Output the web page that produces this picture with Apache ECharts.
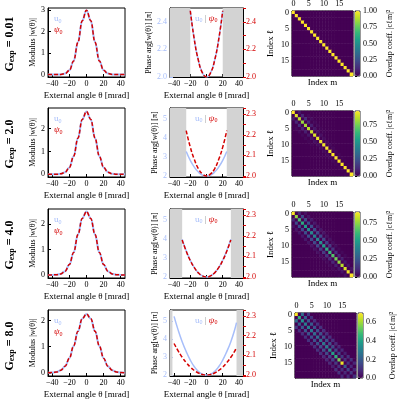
<!DOCTYPE html>
<html><head><meta charset="utf-8">
<script src="https://cdn.jsdelivr.net/npm/echarts@6/dist/echarts.min.js"></script>
<style>html,body{margin:0;background:#fff}#chart{width:400px;height:400px}</style>
</head><body><div id="chart"></div>
<script>
// gain values, one per row
const gains = ['0.01', '2.0', '4.0', '8.0']
// modulus |w(θ)| sampled at θ = -45..45 step 5
const modX = [-45, -40, -35, -30, -25, -20, -15, -10, -5, 0, 5, 10, 15, 20, 25, 30, 35, 40, 45]
const modulus = [
  [0, 0, 0, 0, 0.04, 0.19, 0.63, 1.5, 2.51, 3.0, 2.51, 1.5, 0.63, 0.19, 0.04, 0, 0, 0, 0],
  [0, 0, 0, 0.02, 0.09, 0.3, 0.79, 1.58, 2.4, 2.75, 2.4, 1.58, 0.79, 0.3, 0.09, 0.02, 0, 0, 0],
  [0, 0, 0.01, 0.04, 0.15, 0.41, 0.89, 1.59, 2.23, 2.5, 2.23, 1.59, 0.89, 0.41, 0.15, 0.04, 0.01, 0, 0],
  [0, 0.01, 0.03, 0.1, 0.25, 0.56, 1.03, 1.59, 2.07, 2.25, 2.07, 1.59, 1.03, 0.56, 0.25, 0.1, 0.03, 0.01, 0]
]
const modMax = [3.1, 2.9, 2.6, 2.4]
const modTicks = [[0, 1, 2, 3], [0, 1, 2], [0, 1, 2], [0, 1, 2]]
// phase arg[w(θ)] in units of π
const phaseX = [
  [-20, -15, -10, -5, 0, 5, 10, 15, 20],
  [-25, -20, -15, -10, -5, 0, 5, 10, 15, 20, 25],
  [-30, -25, -20, -15, -10, -5, 0, 5, 10, 15, 20, 25, 30],
  [-40, -35, -30, -25, -20, -15, -10, -5, 0, 5, 10, 15, 20, 25, 30, 35, 37]
]
const phaseU = [
  [2.48, 2.27, 2.12, 2.03, 2.0, 2.03, 2.12, 2.27, 2.48],
  [3.3, 2.83, 2.47, 2.21, 2.05, 2.0, 2.05, 2.21, 2.47, 2.83, 3.3],
  [4.0, 3.39, 2.89, 2.5, 2.22, 2.06, 2.0, 2.06, 2.22, 2.5, 2.89, 3.39, 4.0],
  [5.25, 4.5, 3.85, 3.3, 2.83, 2.46, 2.2, 2.05, 2.0, 2.05, 2.2, 2.46, 2.83, 3.3, 3.85, 4.55, 4.9]
]
const phasePsi = [
  [2.48, 2.27, 2.12, 2.03, 2.0, 2.03, 2.12, 2.27, 2.48],
  [2.22, 2.14, 2.08, 2.035, 2.01, 2.0, 2.01, 2.035, 2.08, 2.14, 2.22],
  [2.18, 2.125, 2.08, 2.045, 2.02, 2.005, 2.0, 2.005, 2.02, 2.045, 2.08, 2.125, 2.18],
  [2.16, 2.123, 2.09, 2.063, 2.04, 2.023, 2.01, 2.003, 2.0, 2.003, 2.01, 2.023, 2.04, 2.063, 2.09, 2.123, 2.14]
]
const grayEdges = [[-20, 20], [-25, 25], [-30, 30], [-42, 37]]
const phaseLeftAxis = [[2.0, 2.5, [2.0, 2.2, 2.4]], [1.95, 5.6, [2, 3, 4, 5]], [1.95, 5.6, [2, 3, 4, 5]], [1.95, 5.6, [2, 3, 4, 5]]]
const phaseRightAxis = [[2.0, 2.5, [2.0, 2.2, 2.4]], [1.995, 2.33, [2.0, 2.1, 2.2, 2.3]], [1.995, 2.33, [2.0, 2.1, 2.2, 2.3]], [1.995, 2.33, [2.0, 2.1, 2.2, 2.3]]]
// overlap matrices |c_lm|^2 : diagonal and symmetric bands (offset 2 and 4)
const diag = [
  [1, 1, 1, 1, 1, 1, 1, 1, 1, 1, 1, 1, 1, 1, 1, 1, 1, 1, 1, 1],
  [0.95, 0.9, 0.85, 0.8, 0.82, 0.85, 0.88, 0.9, 0.92, 0.93, 0.93, 0.94, 0.94, 0.95, 0.95, 0.95, 0.95, 0.95, 0.95, 0.95],
  [0.9, 0.75, 0.62, 0.55, 0.5, 0.45, 0.42, 0.4, 0.42, 0.45, 0.5, 0.55, 0.6, 0.65, 0.7, 0.75, 0.8, 0.85, 0.88, 0.9],
  [0.7, 0.45, 0.35, 0.3, 0.3, 0.28, 0.25, 0.25, 0.25, 0.28, 0.3, 0.35, 0.4, 0.45, 0.55, 0.68, 0.2, 0.15, 0.12, 0.1]
]
const band2 = [
  [0, 0, 0, 0, 0, 0, 0, 0, 0, 0, 0, 0, 0, 0, 0, 0, 0, 0],
  [0.06, 0.1, 0.12, 0.1, 0.08, 0.06, 0.05, 0.04, 0.03, 0.03, 0.02, 0.02, 0.02, 0.02, 0.01, 0.01, 0.01, 0.01],
  [0.1, 0.2, 0.22, 0.22, 0.22, 0.22, 0.2, 0.2, 0.2, 0.18, 0.16, 0.14, 0.12, 0.1, 0.08, 0.06, 0.05, 0.04],
  [0.25, 0.22, 0.2, 0.2, 0.18, 0.18, 0.18, 0.18, 0.18, 0.18, 0.16, 0.15, 0.15, 0.12, 0.1, 0.1, 0.08, 0.08]
]
const band4 = [
  [0, 0, 0, 0, 0, 0, 0, 0, 0, 0, 0, 0, 0, 0, 0, 0],
  [0, 0.02, 0.03, 0.02, 0.02, 0.01, 0.01, 0, 0, 0, 0, 0, 0, 0, 0, 0],
  [0.04, 0.05, 0.06, 0.06, 0.06, 0.05, 0.05, 0.04, 0.04, 0.03, 0.03, 0.02, 0.02, 0.02, 0.01, 0.01],
  [0.12, 0.1, 0.1, 0.1, 0.1, 0.1, 0.1, 0.1, 0.1, 0.08, 0.08, 0.08, 0.06, 0.1, 0.1, 0.08]
]
const cbMax = [1.0, 0.95, 0.9, 0.7]
const cbTicks = [[0, 0.25, 0.5, 0.75, 1.0], [0, 0.25, 0.5, 0.75], [0, 0.25, 0.5, 0.75], [0, 0.2, 0.4, 0.6]]
const cbDigits = [2, 2, 2, 1]

const rowTop = [8, 108, 209, 310]
const FONT = 'Liberation Serif'
const BLUE = '#a7befa', RED = '#d40000'
const viridis = ['#440154', '#482878', '#3e4989', '#31688e', '#26828e', '#1f9e89', '#35b779', '#6ece58', '#b5de2b', '#fde725']
const idx = Array.from({ length: 20 }, (_, i) => i)

const grid = [], xAxis = [], yAxis = [], series = [], visualMap = [], graphic = []
const lbl = { fontFamily: FONT, fontSize: 8, color: '#000', margin: 3 }
const tick = { inside: true, length: 3, lineStyle: { color: '#000' } }
const line = { onZero: false, lineStyle: { color: '#000' } }
const thetaAxis = (g) => ({
  type: 'value', gridIndex: g, min: -45, max: 45, splitLine: { show: false },
  axisLine: line, axisTick: { ...tick, customValues: [-40, -20, 0, 20, 40] },
  axisLabel: { ...lbl, customValues: [-40, -20, 0, 20, 40], formatter: v => v < 0 ? '\u2212' + (-v) : v },
  name: 'External angle \u03b8 [mrad]', nameLocation: 'middle', nameGap: 14,
  nameTextStyle: { fontFamily: FONT, fontSize: 9, color: '#000' }
})

gains.forEach((gain, r) => {
  const top = rowTop[r]
  // ---- modulus
  let g = grid.length
  grid.push({ left: 48, top, width: 77, height: 69, show: true, borderColor: '#000', borderWidth: 1 })
  xAxis.push(thetaAxis(g))
  let ya = yAxis.length
  yAxis.push({
    type: 'value', gridIndex: g, min: -0.12, max: modMax[r], splitLine: { show: false }, axisLine: line,
    axisTick: { ...tick, customValues: modTicks[r] }, axisLabel: { ...lbl, customValues: modTicks[r] },
    name: 'Modulus |w(\u03b8)|', nameLocation: 'middle', nameGap: 10,
    nameTextStyle: { fontFamily: FONT, fontSize: 8, color: '#000' }
  })
  const modData = modX.map((x, i) => [x, modulus[r][i]])
  series.push({ type: 'line', xAxisIndex: g, yAxisIndex: ya, data: modData, symbol: 'none', smooth: 0.4, smoothMonotone: 'x', lineStyle: { color: BLUE, width: 2 } })
  series.push({ type: 'line', xAxisIndex: g, yAxisIndex: ya, data: modData, symbol: 'none', smooth: 0.4, smoothMonotone: 'x', lineStyle: { color: RED, width: 1.5, type: [4, 2] } })
  graphic.push({ type: 'text', left: 54, top: top + 6, style: { text: '{b|u}{bs|0}\n{r|\u03c8}{rs|0}', rich: {
    b: { fill: BLUE, fontFamily: FONT, fontSize: 9, lineHeight: 11 }, bs: { fill: BLUE, fontFamily: FONT, fontSize: 6, verticalAlign: 'bottom' },
    r: { fill: RED, fontFamily: FONT, fontSize: 9, fontStyle: 'italic', lineHeight: 11 }, rs: { fill: RED, fontFamily: FONT, fontSize: 6, verticalAlign: 'bottom' } } } })

  // ---- phase
  g = grid.length
  grid.push({ left: 170, top, width: 73, height: 69, show: true, borderColor: '#000', borderWidth: 1 })
  xAxis.push(thetaAxis(g))
  const [lmin, lmax, lt] = phaseLeftAxis[r], [rmin, rmax, rt] = phaseRightAxis[r]
  const dig = r === 0 ? 1 : 0, rdig = 1
  ya = yAxis.length
  yAxis.push({
    type: 'value', gridIndex: g, min: lmin, max: lmax, splitLine: { show: false }, axisLine: line,
    axisTick: { ...tick, customValues: lt, lineStyle: { color: BLUE } }, axisLabel: { ...lbl, color: BLUE, customValues: lt, formatter: v => v.toFixed(dig) },
    name: 'Phase arg[w(\u03b8)] [\u03c0]', nameLocation: 'middle', nameGap: r === 0 ? 15 : 9,
    nameTextStyle: { fontFamily: FONT, fontSize: 8, color: '#000' }
  })
  yAxis.push({
    type: 'value', gridIndex: g, position: 'right', min: rmin, max: rmax, splitLine: { show: false }, axisLine: line,
    axisTick: { show: true, length: 3, lineStyle: { color: RED } }, axisLabel: { ...lbl, color: RED, customValues: rt, formatter: v => v.toFixed(rdig) }
  })
  const [ga, gb] = grayEdges[r]
  series.push({ type: 'line', xAxisIndex: g, yAxisIndex: ya, data: [], silent: true,
    markArea: { silent: true, itemStyle: { color: '#d3d3d3' }, data: [[{ xAxis: -45 }, { xAxis: ga }], [{ xAxis: gb }, { xAxis: 45 }]] } })
  series.push({ type: 'line', xAxisIndex: g, yAxisIndex: ya, data: phaseX[r].map((x, i) => [x, phaseU[r][i]]), symbol: 'none', smooth: true, lineStyle: { color: BLUE, width: 1.5 } })
  series.push({ type: 'line', xAxisIndex: g, yAxisIndex: ya + 1, data: phaseX[r].map((x, i) => [x, phasePsi[r][i]]), symbol: 'none', smooth: true, lineStyle: { color: RED, width: 1.5, type: [4, 2] } })
  graphic.push({ type: 'text', left: 195, top: top + 6, style: { text: '{b|u}{bs|0}{g| | }{r|\u03c8}{rs|0}', rich: {
    b: { fill: BLUE, fontFamily: FONT, fontSize: 9 }, bs: { fill: BLUE, fontFamily: FONT, fontSize: 6, verticalAlign: 'bottom' },
    g: { fill: '#999', fontFamily: FONT, fontSize: 9 },
    r: { fill: RED, fontFamily: FONT, fontSize: 9, fontStyle: 'italic' }, rs: { fill: RED, fontFamily: FONT, fontSize: 6, verticalAlign: 'bottom' } } } })

  // ---- overlap heatmap
  const M = idx.map(i => idx.map(j => (i === j ? diag[r][i] : 0)))
  band2[r].forEach((v, i) => { M[i][i + 2] = v; M[i + 2][i] = v })
  band4[r].forEach((v, i) => { M[i][i + 4] = v; M[i + 4][i] = v })
  const hmData = []
  idx.forEach(i => idx.forEach(j => hmData.push([j, i, M[i][j]])))
  const hl = 292 + (r === 3 ? 3 : 0)
  g = grid.length
  grid.push({ left: hl, top: top + 3, width: 61, height: 65, show: true, borderColor: '#000', borderWidth: 1 })
  xAxis.push({ type: 'category', gridIndex: g, data: idx, position: 'top', axisLine: line,
    axisTick: { ...tick, inside: false, alignWithLabel: true, interval: 4 }, axisLabel: { ...lbl, interval: 4 },
    name: 'Index m', nameLocation: 'middle', nameGap: -76, nameTextStyle: { fontFamily: FONT, fontSize: 9, color: '#000' } })
  yAxis.push({ type: 'category', gridIndex: g, data: idx, inverse: true, axisLine: line,
    axisTick: { ...tick, inside: false, alignWithLabel: true, interval: 4 }, axisLabel: { ...lbl, interval: 4 },
    name: 'Index \u2113', nameLocation: 'middle', nameGap: 17, nameTextStyle: { fontFamily: FONT, fontSize: 9, color: '#000' } })
  const si = series.length
  series.push({ type: 'heatmap', xAxisIndex: g, yAxisIndex: yAxis.length - 1, data: hmData })
  visualMap.push({ type: 'continuous', seriesIndex: si, min: 0, max: cbMax[r], calculable: false, show: true,
    left: hl + 63, top: top + 3, itemWidth: 5, itemHeight: 65, padding: 0, text: null, showLabel: false,
    inRange: { color: viridis }, textStyle: { fontSize: 0 } })
  // colorbar ticks
  g = grid.length
  grid.push({ left: hl + 63, top: top + 3, width: 5, height: 65, show: true, borderColor: '#000', borderWidth: 0.8 })
  xAxis.push({ type: 'value', gridIndex: g, show: false })
  yAxis.push({ type: 'value', gridIndex: g, position: 'right', min: 0, max: cbMax[r], splitLine: { show: false },
    axisLine: { show: false }, axisTick: { show: true, length: 2, lineStyle: { color: '#000' }, customValues: cbTicks[r] },
    axisLabel: { ...lbl, customValues: cbTicks[r], formatter: v => v.toFixed(cbDigits[r]) },
    name: 'Overlap coeff. |c\u2113m|\u00b2', nameLocation: 'middle', nameGap: 26, nameRotate: 90,
    nameTextStyle: { fontFamily: FONT, fontSize: 8, color: '#000' } })
  series.push({ type: 'line', xAxisIndex: g, yAxisIndex: yAxis.length - 1, data: [] })

  // row label
  graphic.push({ type: 'text', x: 10, y: top + 36, rotation: Math.PI / 2, style: {
    text: '{g|G}{s|exp}{g| = ' + gain + '}', align: 'center', verticalAlign: 'middle',
    rich: { g: { fontFamily: FONT, fontSize: 12, fontWeight: 'bold', fill: '#000' },
      s: { fontFamily: FONT, fontSize: 8, fontWeight: 'bold', fill: '#000', verticalAlign: 'bottom' } } } })
})

const chart = echarts.init(document.getElementById('chart'))
chart.setOption({ animation: false, grid, xAxis, yAxis, series, visualMap, graphic })
</script>
</body></html>
